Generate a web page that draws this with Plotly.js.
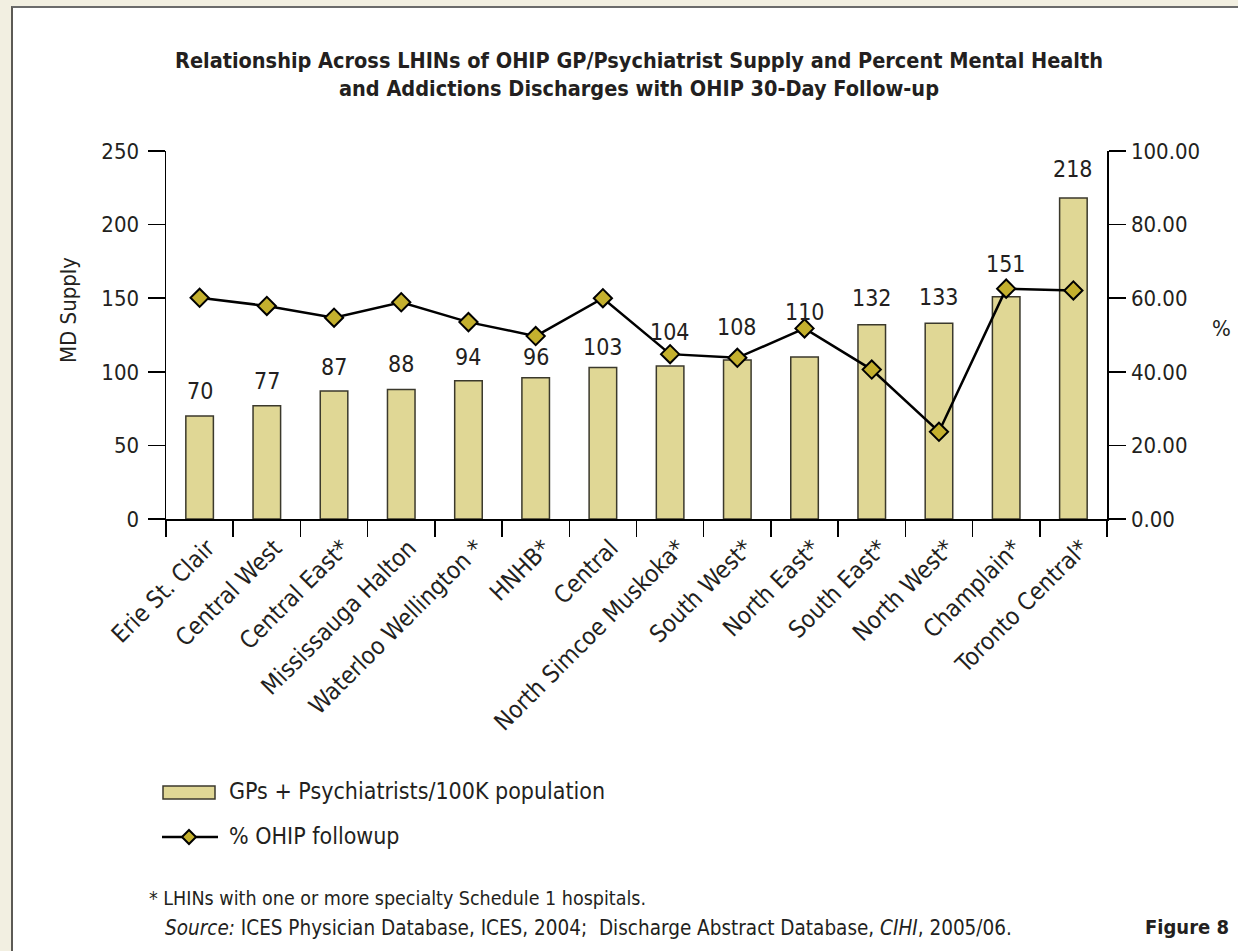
<!DOCTYPE html>
<html>
<head>
<meta charset="utf-8">
<script src="https://cdn.plot.ly/plotly-3.0.1.min.js"></script>
<style>
  html, body { margin:0; padding:0; background:#f2efe1; width:1238px; height:951px; overflow:hidden; }
  #panel { position:absolute; left:11px; top:6px; width:1227px; height:945px; background:#ffffff;
           border-left:2px solid #5c5a55; border-top:2px solid #6b6b6b; box-sizing:border-box; }
  #chart { position:absolute; left:0; top:0; width:1238px; height:951px; }
</style>
</head>
<body>
<div id="panel"></div>
<div id="chart"></div>
<script>
// ---- data ----
const categories = ['Erie St. Clair','Central West','Central East*','Mississauga Halton','Waterloo Wellington *','HNHB*','Central','North Simcoe Muskoka*','South West*','North East*','South East*','North West*','Champlain*','Toronto Central*'];
const mdSupply = [70, 77, 87, 88, 94, 96, 103, 104, 108, 110, 132, 133, 151, 218];
const ohipFollowup = [60.1, 57.9, 54.7, 58.9, 53.5, 49.7, 60.0, 44.8, 43.8, 51.8, 40.6, 23.7, 62.6, 62.1];
const leftTicks = [0, 50, 100, 150, 200, 250];
const rightTicks = [0, 20, 40, 60, 80, 100];
const seriesNames = ['GPs + Psychiatrists/100K population', '% OHIP followup'];
const titleText = 'Relationship Across LHINs of OHIP GP/Psychiatrist Supply and Percent Mental Health<br>and Addictions Discharges with OHIP 30-Day Follow-up';

// ---- style ----
const FONT = "'Liberation Sans Narrow', 'DejaVu Sans Condensed', 'Arial Narrow', sans-serif";
const TXT = '#231f20';
const BAR_FILL = '#e0d795';
const BAR_LINE = '#3b392c';
const MARK_FILL = '#c4b02e';
// pixel lift of each bar's value label above the bar top (as placed in the original)
const labelLift = [25, 25, 24, 25, 24, 21, 20, 34, 33, 45, 27, 26, 33, 29];

// plot area in pixels
const L = 166, R = 1107, T = 151, B = 519;
const px = x => (x - L) / (R - L);
const py = y => (B - y) / (B - T);

const bars = {
  type: 'bar', x: categories, y: mdSupply, name: seriesNames[0],
  marker: { color: BAR_FILL, line: { color: BAR_LINE, width: 1.5 } },
  hoverinfo: 'skip', showlegend: false
};
const line = {
  type: 'scatter', mode: 'lines+markers', x: categories, y: ohipFollowup, yaxis: 'y2', name: seriesNames[1],
  line: { color: '#000000', width: 2.5 },
  marker: { symbol: 'diamond', size: 14, color: MARK_FILL, line: { color: '#000000', width: 2 } },
  hoverinfo: 'skip', showlegend: false
};

const annotations = mdSupply.map((v, i) => ({
  x: categories[i], y: v, xref: 'x', yref: 'y', text: String(v), showarrow: false,
  yanchor: 'middle', yshift: labelLift[i], font: { family: FONT, size: 23, color: TXT }
}));

annotations.push(
  { xref: 'paper', yref: 'paper', x: px(68), y: py(310), text: 'MD Supply', textangle: -90, showarrow: false,
    xanchor: 'center', yanchor: 'middle', font: { family: FONT, size: 22, color: TXT } },
  { xref: 'paper', yref: 'paper', x: px(1221), y: py(328), text: '%', showarrow: false,
    xanchor: 'center', yanchor: 'middle', font: { family: FONT, size: 22, color: TXT } },
  // legend texts
  { xref: 'paper', yref: 'paper', x: px(227), y: py(791), text: seriesNames[0], showarrow: false,
    xanchor: 'left', yanchor: 'middle', font: { family: FONT, size: 23, color: TXT } },
  { xref: 'paper', yref: 'paper', x: px(227), y: py(836), text: seriesNames[1], showarrow: false,
    xanchor: 'left', yanchor: 'middle', font: { family: FONT, size: 23, color: TXT } },
  // footnotes
  { xref: 'paper', yref: 'paper', x: px(147), y: py(898), text: '* LHINs with one or more specialty Schedule 1 hospitals.', showarrow: false,
    xanchor: 'left', yanchor: 'middle', font: { family: FONT, size: 19.5, color: TXT } },
  { xref: 'paper', yref: 'paper', x: px(163), y: py(928), text: '<i>Source:</i> ICES Physician Database, ICES, 2004;  Discharge Abstract Database, <i>CIHI</i>, 2005/06.', showarrow: false,
    xanchor: 'left', yanchor: 'middle', font: { family: FONT, size: 20.5, color: TXT } },
  { xref: 'paper', yref: 'paper', x: px(1231), y: py(927), text: '<b>Figure 8</b>', showarrow: false,
    xanchor: 'right', yanchor: 'middle', font: { family: FONT, size: 20, color: TXT } }
);

const shapes = [
  // legend bar swatch
  { type: 'rect', xref: 'paper', yref: 'paper', x0: px(163), x1: px(215), y0: py(786), y1: py(799),
    fillcolor: BAR_FILL, line: { color: BAR_LINE, width: 1.5 } },
  // legend line swatch
  { type: 'line', xref: 'paper', yref: 'paper', x0: px(162), x1: px(218), y0: py(837), y1: py(837),
    line: { color: '#000000', width: 2.5 } },
  { type: 'path', xref: 'paper', yref: 'paper',
    path: `M ${px(189)} ${py(830)} L ${px(196)} ${py(837)} L ${px(189)} ${py(844)} L ${px(182)} ${py(837)} Z`,
    fillcolor: MARK_FILL, line: { color: '#000000', width: 2 } }
];

const axisCommon = {
  showgrid: false, zeroline: false, showline: true, linecolor: '#000000', linewidth: 1.5,
  ticks: 'outside', ticklen: 17, tickwidth: 1.5, tickcolor: '#000000', fixedrange: true,
  tickfont: { family: FONT, size: 22, color: TXT }
};

const layout = {
  width: 1238, height: 951,
  margin: { l: L, r: 1238 - R, t: T, b: 951 - B, pad: 0 },
  paper_bgcolor: 'rgba(0,0,0,0)', plot_bgcolor: 'rgba(0,0,0,0)',
  font: { family: FONT, color: TXT },
  title: { text: '<b>' + titleText + '</b>', xref: 'container', yref: 'container', x: 639 / 1238, y: 1 - 68 / 951,
           xanchor: 'center', yanchor: 'top', font: { family: FONT, size: 21.5, color: TXT } },
  bargap: 0.59,
  showlegend: false,
  xaxis: Object.assign({}, axisCommon, { type: 'category', range: [-0.5, categories.length - 0.5], autorange: false,
    tickson: 'boundaries', ticklen: 16, tickangle: -45, ticklabelshift: 8, ticklabelstandoff: 4,
    tickfont: { family: FONT, size: 24, color: TXT } }),
  yaxis: Object.assign({}, axisCommon, { range: [0, 250], tickvals: leftTicks, ticktext: leftTicks.map(String), ticklabelstandoff: 4 }),
  yaxis2: Object.assign({}, axisCommon, { overlaying: 'y', side: 'right', range: [0, 100], tickvals: rightTicks,
    ticktext: rightTicks.map(v => v.toFixed(2)), ticklabelstandoff: 1 }),
  annotations: annotations,
  shapes: shapes
};

Plotly.newPlot('chart', [bars, line], layout, { staticPlot: true, displayModeBar: false });
</script>
</body>
</html>
